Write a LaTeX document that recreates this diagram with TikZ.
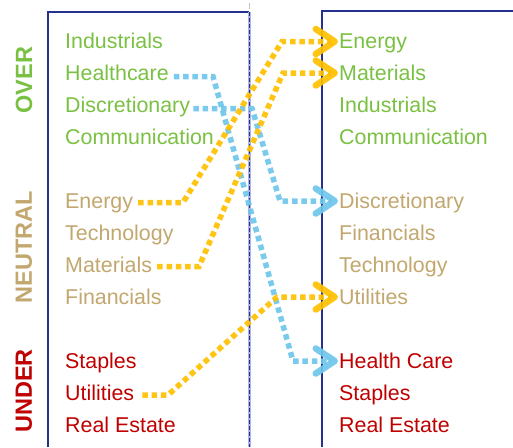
\documentclass[tikz,border=0pt]{standalone}
\usepackage{fontspec}
\setmainfont{Liberation Sans}
\usetikzlibrary{arrows.meta}
\definecolor{cgreen}{HTML}{7AC143}
\definecolor{ctan}{HTML}{C2A76E}
\definecolor{cred}{HTML}{C00000}
\definecolor{corange}{HTML}{FFC000}
\definecolor{cblue}{HTML}{6EC6EA}
\definecolor{cbox}{HTML}{25318C}
\definecolor{clav}{HTML}{AEB4E2}
\begin{document}
\begin{tikzpicture}[x=1pt,y=-1pt,
  item/.style={anchor=base west, inner sep=0pt, text height=14pt, text depth=0pt, font=\fontsize{21.4}{25}\selectfont},
  side/.style={rotate=90, inner sep=0pt, font=\bfseries\fontsize{23.5}{27}\selectfont},
  conn/.style={line width=5.5pt, dash pattern=on 5.5pt off 3.8pt, opacity=0.92,
    -{Straight Barb[length=19pt,width=25pt,round,line width=6.5pt]}},
  oconn/.style={conn, draw=corange},
  bconn/.style={conn, draw=cblue}]
\useasboundingbox (0,0) rectangle (513,447);

% boxes
\draw[cbox, line width=1.4pt] (48,447) -- (48,12) -- (249,12);
\draw[clav, line width=3pt] (249,12) -- (249,447);
\draw[cbox, line width=0.8pt, dash pattern=on 4pt off 2pt] (249,12) -- (249,447);
\draw[black!25, line width=0.8pt] (249,3) -- (249,9);
\draw[cbox, line width=2.4pt] (322,447) -- (322,11) -- (513,11);

% side labels
\node[side, text=cgreen] (over) at (24,80) {OVER};
\node[side, text=ctan] (neutral) at (24,247) {NEUTRAL};
\node[side, text=cred] (under) at (24,391) {UNDER};

% left column
\node[item, text=cgreen] (LIn) at (65,48.5) {Industrials};
\node[item, text=cgreen] (LHc) at (65,80.5) {Healthcare};
\node[item, text=cgreen] (LDi) at (65,112.5) {Discretionary};
\node[item, text=cgreen] (LCo) at (65,144.5) {Communication};
\node[item, text=ctan] (LEn) at (65,208.5) {Energy};
\node[item, text=ctan] (LTe) at (65,240.5) {Technology};
\node[item, text=ctan] (LMa) at (65,272.5) {Materials};
\node[item, text=ctan] (LFi) at (65,304.5) {Financials};
\node[item, text=cred] (LSt) at (65,368) {Staples};
\node[item, text=cred] (LUt) at (65,400) {Utilities};
\node[item, text=cred] (LRe) at (65,432) {Real Estate};

% right column
\node[item, text=cgreen] (REn) at (339,48.5) {Energy};
\node[item, text=cgreen] (RMa) at (339,80) {Materials};
\node[item, text=cgreen] (RIn) at (339,112.5) {Industrials};
\node[item, text=cgreen] (RCo) at (339,144.5) {Communication};
\node[item, text=ctan] (RDi) at (339,208) {Discretionary};
\node[item, text=ctan] (RFi) at (339,240.5) {Financials};
\node[item, text=ctan] (RTe) at (339,272.5) {Technology};
\node[item, text=ctan] (RUt) at (339,304) {Utilities};
\node[item, text=cred] (RHc) at (339,368) {Health Care};
\node[item, text=cred] (RSt) at (339,400) {Staples};
\node[item, text=cred] (RRe) at (339,432) {Real Estate};

% corner coordinates (x positions)
\coordinate (b1a) at (213,0);
\coordinate (b1b) at (293,0);
\coordinate (b2a) at (252,0);
\coordinate (b2b) at (280,0);
\coordinate (o1a) at (183,0);
\coordinate (o1b) at (282,0);
\coordinate (o2a) at (199,0);
\coordinate (o2b) at (283,0);
\coordinate (o3a) at (168,0);
\coordinate (o3b) at (277,0);

% blue connectors
\draw[bconn] ([shift={(5pt,-3pt)}]LHc.east) -- ([yshift=-3pt]LHc.east -| b1a) -- (RHc.west -| b1b) -- ([xshift=-1pt]RHc.west);
\draw[bconn] ([shift={(3pt,-3pt)}]LDi.east) -- ([yshift=-3pt]LDi.east -| b2a) -- (RDi.west -| b2b) -- ([xshift=-1pt]RDi.west);

% orange connectors
\draw[oconn] ([shift={(5pt,-1pt)}]LEn.east) -- ([yshift=-1pt]LEn.east -| o1a) -- (REn.west -| o1b) -- ([xshift=-1pt]REn.west);
\draw[oconn] ([shift={(5pt,-1pt)}]LMa.east) -- ([yshift=-1pt]LMa.east -| o2a) -- (RMa.west -| o2b) -- ([xshift=-1pt]RMa.west);
\draw[oconn] ([shift={(8pt,-2pt)}]LUt.east) -- ([yshift=-2pt]LUt.east -| o3a) -- (RUt.west -| o3b) -- ([xshift=-1pt]RUt.west);
\end{tikzpicture}
\end{document}
